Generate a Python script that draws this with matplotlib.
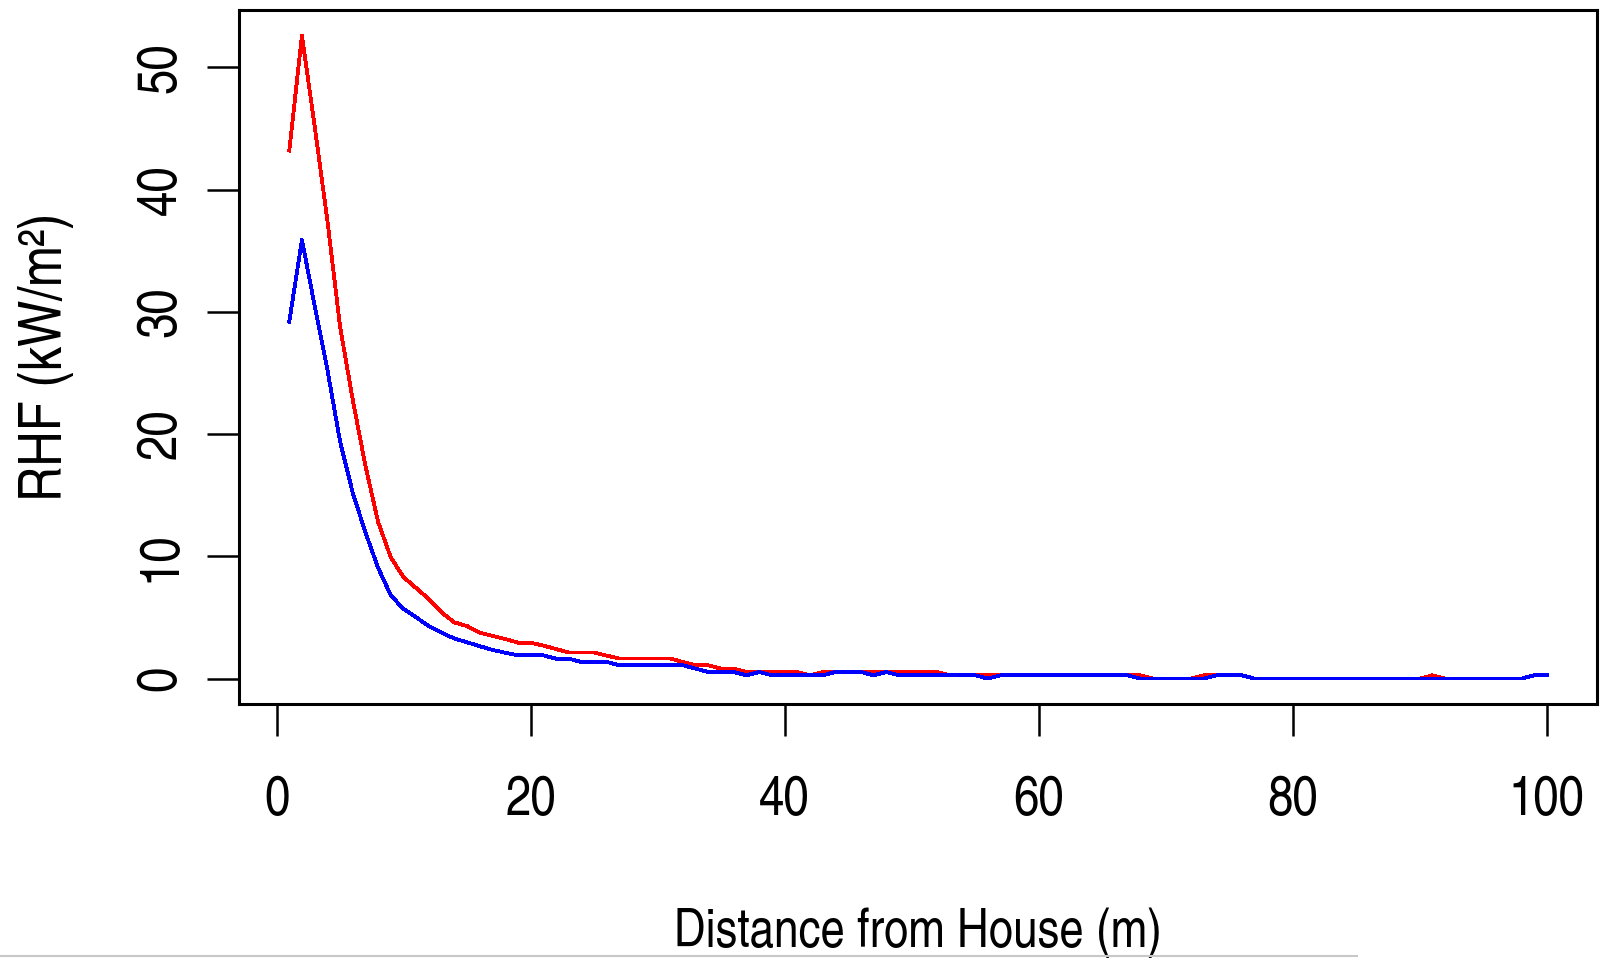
import numpy as np
import matplotlib
matplotlib.use("Agg")
from matplotlib import pyplot as plt
from matplotlib.lines import Line2D

# distance from house (m) and radiant heat flux for the two cases
distance = np.arange(1, 101)

rhf_red = [43.2, 52.6, 45.2, 37.5, 28.8, 22.8, 17.4, 12.8, 9.9, 8.3,
           7.4, 6.5, 5.4, 4.6, 4.3, 3.75, 3.5, 3.24, 2.94, 2.94,
           2.7, 2.42, 2.13, 2.13, 2.13, 1.88, 1.64, 1.64, 1.64, 1.64,
           1.64, 1.36, 1.09, 1.09, 0.81, 0.81, 0.54, 0.54, 0.54, 0.54,
           0.54, 0.27, 0.54, 0.54, 0.54, 0.54, 0.54, 0.54, 0.54, 0.54,
           0.54, 0.54, 0.27, 0.27, 0.27, 0.27, 0.27, 0.27, 0.27, 0.27,
           0.27, 0.27, 0.27, 0.27, 0.27, 0.27, 0.27, 0.27, 0.0, 0.0,
           0.0, 0.0, 0.27, 0.27, 0.27, 0.27, 0.0, 0.0, 0.0, 0.0,
           0.0, 0.0, 0.0, 0.0, 0.0, 0.0, 0.0, 0.0, 0.0, 0.0,
           0.27, 0.0, 0.0, 0.0, 0.0, 0.0, 0.0, 0.0, 0.27, 0.27]

rhf_blue = [29.2, 35.9, 30.5, 25.3, 19.4, 15.2, 11.95, 9.05, 6.8, 5.7,
            5.0, 4.3, 3.75, 3.28, 2.97, 2.65, 2.35, 2.12, 1.9, 1.9,
            1.9, 1.63, 1.63, 1.36, 1.36, 1.36, 1.09, 1.09, 1.09, 1.09,
            1.09, 1.09, 0.81, 0.54, 0.54, 0.54, 0.27, 0.54, 0.27, 0.27,
            0.27, 0.27, 0.27, 0.54, 0.54, 0.54, 0.27, 0.54, 0.27, 0.27,
            0.27, 0.27, 0.27, 0.27, 0.27, 0.0, 0.27, 0.27, 0.27, 0.27,
            0.27, 0.27, 0.27, 0.27, 0.27, 0.27, 0.27, 0.0, 0.0, 0.0,
            0.0, 0.0, 0.0, 0.27, 0.27, 0.27, 0.0, 0.0, 0.0, 0.0,
            0.0, 0.0, 0.0, 0.0, 0.0, 0.0, 0.0, 0.0, 0.0, 0.0,
            0.0, 0.0, 0.0, 0.0, 0.0, 0.0, 0.0, 0.0, 0.27, 0.27]

x_ticks = [0, 20, 40, 60, 80, 100]
y_ticks = [0, 10, 20, 30, 40, 50]

# condensed sans to mimic the squeezed R/Windows text
plt.rcParams['font.family'] = ['TeX Gyre Heros Cn', 'Liberation Sans Narrow', 'Liberation Sans', 'DejaVu Sans']
plt.rcParams['font.size'] = 40

fig = plt.figure(figsize=(16.08, 9.58), dpi=100)
ax = fig.add_axes([0.1486, 0.2648, 0.8446, 0.7248])

ax.plot(distance, rhf_red, color='red', lw=2.0, antialiased=False)
ax.plot(distance, rhf_blue, color='blue', lw=2.0, antialiased=False)

# R style 4% padding around the data range
xr = distance.max() - distance.min()
ax.set_xlim(distance.min() - 0.04 * xr, distance.max() + 0.04 * xr)
ymin = min(min(rhf_red), min(rhf_blue))
ymax = max(max(rhf_red), max(rhf_blue))
yr = ymax - ymin
ax.set_ylim(ymin - 0.04 * yr, ymax + 0.04 * yr)

ax.set_xticks(x_ticks)
ax.set_yticks(y_ticks)
ax.tick_params(axis='both', length=23, width=1.8, color='black')
ax.tick_params(axis='x', pad=28)
ax.tick_params(axis='y', pad=14, labelrotation=90)
for lab in ax.get_yticklabels():
    lab.set_va('center')

for sp in ax.spines.values():
    sp.set_linewidth(2.2)

ax.set_xlabel('Distance from House (m)', va='baseline', fontsize=38.5)
ax.xaxis.set_label_coords(0.5, -0.349)
ax.set_ylabel('RHF (kW/m²)', va='center', fontsize=43)
ax.yaxis.set_label_coords(-0.142, 0.5)

# thin grey edge left at the bottom of the screenshot
fig.add_artist(Line2D([0, 0.844], [0.002, 0.002], transform=fig.transFigure,
                      color='#c8c8c8', lw=1.5))

fig.savefig('out.png', dpi=100)
